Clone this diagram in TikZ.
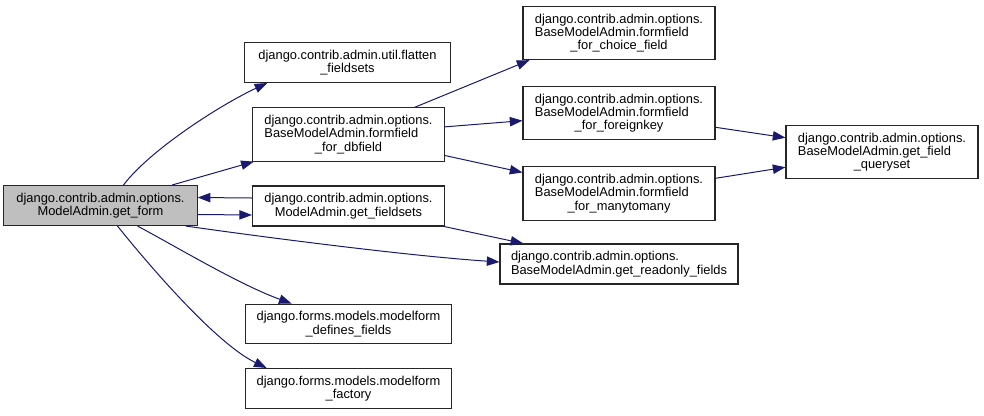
\documentclass[tikz,border=0pt]{standalone}
\usepackage{fontspec}
\setmainfont{Liberation Sans}
\usetikzlibrary{arrows.meta, calc}
\definecolor{edgeblue}{RGB}{25,25,112}
\definecolor{curgray}{RGB}{191,191,191}
\newcommand{\lstack}[2]{\begin{tabular}[b]{@{}l@{}}#1\\#2\end{tabular}}

\begin{document}
\begin{tikzpicture}[x=0.75pt, y=-0.75pt,
  fn/.style={draw=black!85, line width=0.8pt, fill=white, align=center,
    font=\fontsize{9.65}{10}\selectfont, inner xsep=6pt, inner ysep=5.5pt,
    minimum width=144pt},
  call/.style={draw=edgeblue, line width=0.75pt, -{Triangle[length=9.5pt, width=7pt]}}]
  \useasboundingbox (0,0) rectangle (984,415);

  % caller
  \node[fn, fill=curgray, minimum width=145pt] (form) at (100.5,205.5)
    {django.contrib.admin.options.\\ModelAdmin.get\_form};

  % first column
  \node[fn, minimum width=154pt] (flatten) at (347.5,62.5)
    {django.contrib.admin.util.flatten\\\_fieldsets};
  \node[fn] (dbfield) at (348.5,134.5)
    {\lstack{django.contrib.admin.options.}{BaseModelAdmin.formfield}\\\_for\_dbfield};
  \node[fn] (fieldsets) at (348.5,206)
    {django.contrib.admin.options.\\ModelAdmin.get\_fieldsets};
  \node[fn, minimum width=155pt] (defines) at (348.5,324)
    {django.forms.models.modelform\\\_defines\_fields};
  \node[fn, minimum width=155pt] (factory) at (348.5,388.5)
    {django.forms.models.modelform\\\_factory};

  % second column
  \node[fn] (choice) at (619,33)
    {\lstack{django.contrib.admin.options.}{BaseModelAdmin.formfield}\\\_for\_choice\_field};
  \node[fn] (foreignkey) at (619,113)
    {\lstack{django.contrib.admin.options.}{BaseModelAdmin.formfield}\\\_for\_foreignkey};
  \node[fn] (manytomany) at (619,193.5)
    {\lstack{django.contrib.admin.options.}{BaseModelAdmin.formfield}\\\_for\_manytomany};
  \node[fn, align=left, minimum width=178.5pt] (readonly) at (619,264)
    {django.contrib.admin.options.\\BaseModelAdmin.get\_readonly\_fields};

  % third column
  \node[fn] (queryset) at (882,152)
    {\lstack{django.contrib.admin.options.}{BaseModelAdmin.get\_field}\\\_queryset};

  % calls from get_form
  \draw[call] ($(form.north)+(23,0)$) .. controls (150,150) and (220,105) .. ($(flatten.south west)+(23,0)$);
  \draw[call] (form) -- (dbfield);
  \draw[call] ($(fieldsets.west)+(0,-8)$) -- ($(form.east)+(0,-8)$);
  \draw[call] ($(form.east)+(0,9)$) -- ($(fieldsets.west)+(0,9)$);
  \draw[call] ($(form.south east)+(-12,0)$) .. controls (270,238) and (410,256) .. ($(readonly.west)+(0,-2)$);
  \draw[call] ($(form.south)+(37,0)$) .. controls (175,246) and (240,285) .. ($(defines.north west)+(47,0)$);
  \draw[call] ($(form.south)+(17,0)$) .. controls (152,269) and (217,344) .. ($(factory.north west)+(22,0)$);

  % further calls
  \draw[call] (dbfield) -- ($(choice.south west)+(7,0)$);
  \draw[call] (dbfield) -- (foreignkey);
  \draw[call] (dbfield) -- (manytomany);
  \draw[call] (fieldsets) -- (readonly);
  \draw[call] (foreignkey) -- (queryset);
  \draw[call] (manytomany) -- (queryset);
\end{tikzpicture}
\end{document}
